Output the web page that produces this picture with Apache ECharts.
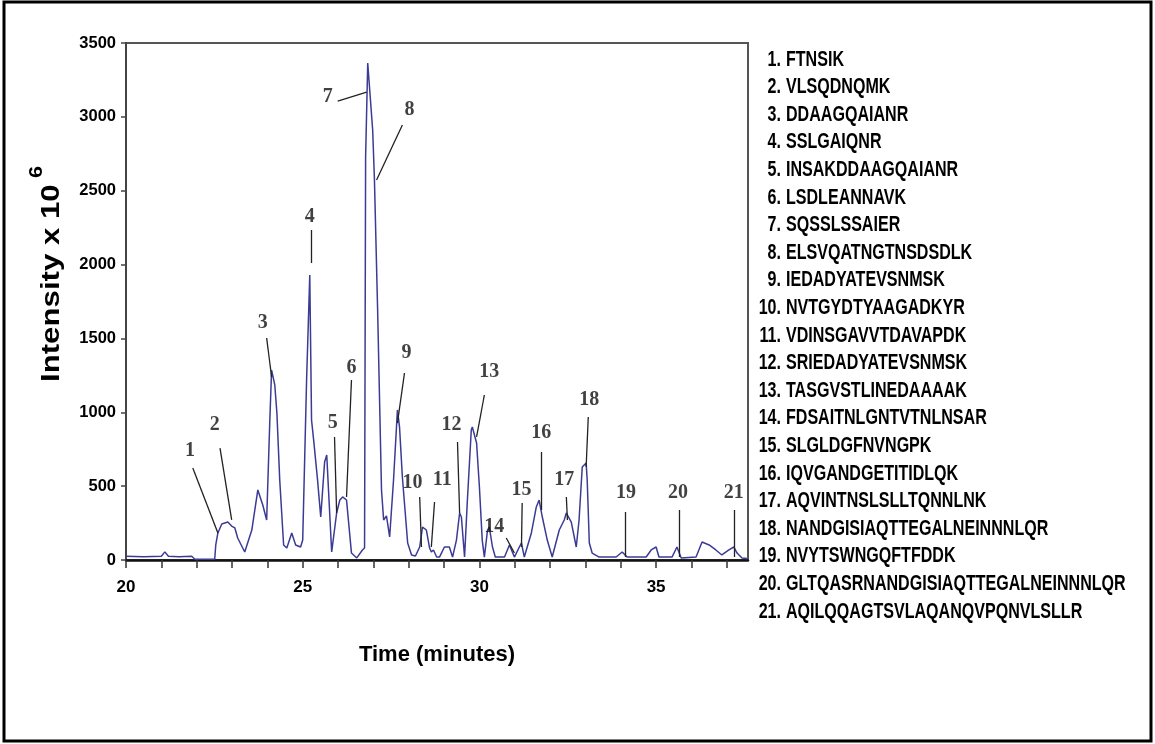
<!DOCTYPE html>
<html>
<head>
<meta charset="utf-8">
<script src="https://cdn.jsdelivr.net/npm/echarts@6/dist/echarts.min.js"></script>
<style>
  html, body { margin: 0; padding: 0; background: #fff; }
  #chart { width: 1155px; height: 744px; }
</style>
</head>
<body>
<div id="chart"></div>
<script>
// retention time (minutes) and intensity (x 10^6)
var timeMin = [20.0, 20.5, 21.0, 21.1, 21.2, 21.5, 21.86, 21.95, 22.51, 22.54, 22.60, 22.71, 22.88, 22.99, 23.08, 23.16, 23.36, 23.56, 23.73, 23.87, 23.98, 24.07, 24.12, 24.21, 24.27, 24.35, 24.46, 24.55, 24.69, 24.80, 24.94, 25.00, 25.11, 25.20, 25.25, 25.31, 25.42, 25.51, 25.62, 25.68, 25.73, 25.82, 25.96, 26.05, 26.13, 26.24, 26.38, 26.53, 26.69, 26.75, 26.78, 26.84, 26.98, 27.03, 27.12, 27.23, 27.29, 27.37, 27.46, 27.57, 27.66, 27.68, 27.74, 27.82, 27.97, 28.08, 28.19, 28.31, 28.39, 28.50, 28.59, 28.64, 28.70, 28.79, 28.87, 29.01, 29.15, 29.24, 29.35, 29.44, 29.49, 29.58, 29.66, 29.77, 29.80, 29.92, 30.00, 30.08, 30.14, 30.23, 30.28, 30.37, 30.45, 30.71, 30.85, 30.99, 31.13, 31.19, 31.27, 31.47, 31.61, 31.69, 31.78, 31.92, 32.06, 32.26, 32.40, 32.46, 32.60, 32.74, 32.82, 32.91, 33.02, 33.05, 33.11, 33.19, 33.39, 33.87, 34.04, 34.18, 34.72, 34.86, 35.00, 35.08, 35.45, 35.59, 35.71, 36.13, 36.30, 36.50, 36.69, 36.86, 37.06, 37.20, 37.29, 37.43, 37.57];
var intensity = [25, 22, 25, 55, 25, 22, 25, 5, 5, 102, 183, 244, 257, 230, 217, 149, 54, 203, 474, 372, 271, 948, 1286, 1185, 995, 542, 102, 81, 183, 102, 88, 135, 1219, 1929, 948, 812, 542, 291, 663, 711, 474, 54, 318, 406, 427, 406, 47, 14, 68, 81, 2728, 3365, 2911, 2573, 1693, 474, 271, 298, 156, 542, 927, 1016, 900, 562, 115, 34, 27, 88, 223, 203, 81, 54, 68, 20, 20, 88, 88, 20, 135, 318, 291, 20, 406, 880, 900, 792, 494, 135, 20, 203, 223, 88, 20, 20, 102, 20, 88, 115, 20, 183, 359, 406, 291, 135, 20, 203, 271, 318, 257, 88, 271, 630, 657, 542, 115, 47, 20, 20, 54, 20, 20, 68, 88, 20, 20, 88, 14, 20, 122, 102, 68, 34, 68, 88, 47, 14, 10];

// peak numbers: label anchor and leader line, in data units
var peakNames = ['1','2','3','4','5','6','7','8','9','10','11','12','13','14','15','16','17','18','19','20','21'];
var labelAt = [[21.81,738],[22.51,914],[23.87,1604],[25.20,2322],[25.85,927],[26.38,1300],[25.71,3134],[28.02,3047],[27.94,1401],[28.11,521],[28.95,542],[29.21,914],[30.28,1273],[30.42,223],[31.19,474],[31.75,860],[32.40,542],[33.11,1083],[34.15,454],[35.62,454],[37.20,454]];
var leaderFrom = [[21.89,623],[22.66,758],[23.98,1503],[25.23,2234],[25.90,833],[26.38,1219],[25.99,3107],[27.82,2945],[27.88,1266],[28.31,427],[28.73,393],[29.38,799],[30.14,1117],[30.76,149],[31.21,386],[31.75,731],[32.46,427],[33.08,968],[34.12,325],[35.65,339],[37.20,339]];
var leaderTo = [[22.60,183],[22.99,271],[24.12,1239],[25.23,2011],[25.96,318],[26.24,427],[26.81,3168],[27.09,2573],[27.68,927],[28.36,88],[28.64,88],[29.44,318],[29.92,833],[30.99,47],[31.19,88],[31.75,338],[32.49,271],[33.02,630],[34.12,20],[35.65,20],[37.20,20]];

var peptides = ['FTNSIK','VLSQDNQMK','DDAAGQAIANR','SSLGAIQNR','INSAKDDAAGQAIANR','LSDLEANNAVK','SQSSLSSAIER','ELSVQATNGTNSDSDLK','IEDADYATEVSNMSK','NVTGYDTYAAGADKYR','VDINSGAVVTDAVAPDK','SRIEDADYATEVSNMSK','TASGVSTLINEDAAAAK','FDSAITNLGNTVTNLNSAR','SLGLDGFNVNGPK','IQVGANDGETITIDLQK','AQVINTNSLSLLTQNNLNK','NANDGISIAQTTEGALNEINNNLQR','NVYTSWNGQFTFDDK','GLTQASRNANDGISIAQTTEGALNEINNNLQR','AQILQQAGTSVLAQANQVPQNVLSLLR'];

var sans = '"Liberation Sans", Arial, sans-serif';

var trace = timeMin.map(function (t, i) { return [t, intensity[i]]; });
var peakLabels = labelAt.map(function (p, i) { return [p[0], p[1], peakNames[i]]; });
var leaders = leaderFrom.map(function (p, i) { return { coords: [p, leaderTo[i]] }; });

var graphics = [
  { type: 'rect', shape: { x: 4, y: 2, width: 1147, height: 739 },
    style: { fill: 'none', stroke: '#000', lineWidth: 3 }, silent: true },
  { type: 'text', x: 52, y: 382, rotation: Math.PI / 2, scaleX: 1.2,
    style: { text: 'Intensity x 10', font: 'bold 26px ' + sans,
      fill: '#000', align: 'left', verticalAlign: 'middle' } },
  { type: 'text', x: 37, y: 172, rotation: Math.PI / 2, scaleX: 1.2,
    style: { text: '6', font: 'bold 18px ' + sans,
      fill: '#000', align: 'center', verticalAlign: 'middle' } }
];
// peptide key on the right, condensed like the original
peptides.forEach(function (p, i) {
  var y = 59.5 + 27.6 * i;
  graphics.push({ type: 'text', x: 781, y: y, scaleX: 0.73,
    style: { text: (i + 1) + '.', font: 'bold 22px ' + sans, fill: '#000', align: 'right', verticalAlign: 'middle' } });
  graphics.push({ type: 'text', x: 786, y: y, scaleX: 0.73,
    style: { text: p, font: 'bold 22px ' + sans, fill: '#000', align: 'left', verticalAlign: 'middle' } });
});

var myChart = echarts.init(document.getElementById('chart'));
myChart.setOption({
  animation: false,
  backgroundColor: '#fff',
  grid: {
    left: 126,
    top: 43,
    right: 407,
    bottom: 184,
    show: true,
    borderColor: '#555',
    borderWidth: 2
  },
  xAxis: {
    type: 'value',
    min: 20,
    max: 37.6,
    interval: 1,
    name: 'Time (minutes)',
    nameLocation: 'middle',
    nameGap: 84,
    nameTextStyle: { fontFamily: sans, fontWeight: 'bold', fontSize: 22, color: '#000' },
    axisLine: { lineStyle: { color: '#111', width: 2.5 } },
    axisTick: { length: 8, lineStyle: { color: '#333', width: 1.5 } },
    axisLabel: {
      margin: 19,
      fontFamily: sans, fontWeight: 'bold', fontSize: 17, color: '#000',
      showMaxLabel: false,
      formatter: function (v) { return v % 5 === 0 ? String(v) : ''; }
    },
    splitLine: { show: false }
  },
  yAxis: {
    type: 'value',
    min: 0,
    max: 3500,
    interval: 500,
    axisLine: { show: true, lineStyle: { color: '#444', width: 2 } },
    axisTick: { show: true, length: 5, lineStyle: { color: '#444', width: 1.5 } },
    axisLabel: {
      margin: 10, fontFamily: sans, fontWeight: 'bold', fontSize: 16.5, color: '#000',
      formatter: function (v) { return String(v); }
    },
    splitLine: { show: false }
  },
  graphic: graphics,
  series: [{
    name: 'trace',
    type: 'line',
    data: trace,
    showSymbol: false,
    symbol: 'none',
    lineStyle: { color: '#3b3b95', width: 1.5 },
    z: 3
  }, {
    name: 'leaders',
    type: 'lines',
    coordinateSystem: 'cartesian2d',
    data: leaders,
    silent: true,
    lineStyle: { color: '#222', width: 1.3, opacity: 1, curveness: 0 },
    z: 4
  }, {
    name: 'peaks',
    type: 'scatter',
    data: peakLabels,
    symbolSize: 1,
    itemStyle: { color: 'rgba(0,0,0,0)' },
    silent: true,
    label: {
      show: true,
      position: 'inside',
      formatter: function (p) { return p.value[2]; },
      fontFamily: '"Liberation Serif", "Times New Roman", serif',
      fontWeight: 'bold',
      fontSize: 20,
      color: '#111'
    },
    z: 5
  }]
});
</script>
</body>
</html>
